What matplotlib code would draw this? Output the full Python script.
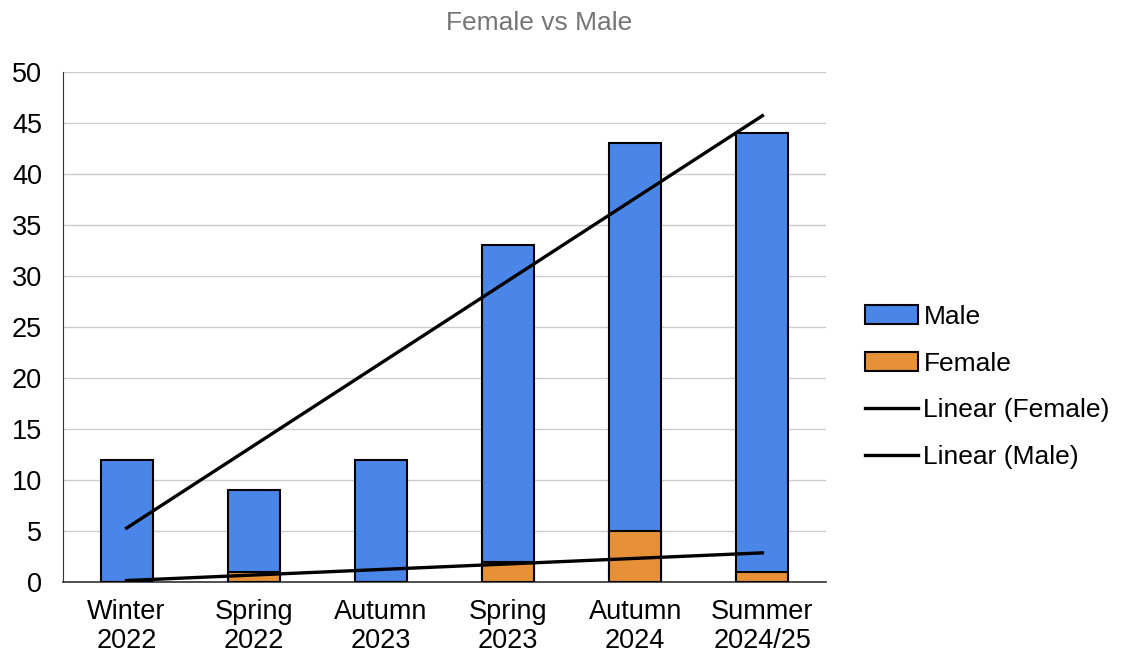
import numpy as np
import matplotlib
matplotlib.use("Agg")
import matplotlib.pyplot as plt

categories = ["Winter\n2022", "Spring\n2022", "Autumn\n2023", "Spring\n2023", "Autumn\n2024", "Summer\n2024/25"]
male = [12, 9, 12, 33, 43, 44]
female = [0, 1, 0, 2, 5, 1]

plt.rcParams["font.family"] = ["Liberation Sans", "DejaVu Sans"]

fig = plt.figure(figsize=(11.21, 6.57), dpi=100)
ax = fig.add_axes([63 / 1121, 1 - 582 / 657, 763 / 1121, 510 / 657])

x = np.arange(len(categories))
w = 0.41
b1 = ax.bar(x, male, w, color="#4a86e8", edgecolor="black", linewidth=1.5, label="Male", zorder=2)
b2 = ax.bar(x, female, w, color="#e69138", edgecolor="black", linewidth=1.5, label="Female", zorder=3)

# linear trend lines
pf = np.polyfit(x, female, 1)
pm = np.polyfit(x, male, 1)
l1, = ax.plot(x, np.polyval(pf, x), color="black", lw=2.4, label="Linear (Female)", zorder=4)
l2, = ax.plot(x, np.polyval(pm, x), color="black", lw=2.4, label="Linear (Male)", zorder=4)

ax.set_xlim(-0.5, len(categories) - 0.5)
ax.set_ylim(0, 50)
ax.set_yticks(range(0, 51, 5))
ax.set_xticks(x)
ax.set_xticklabels(categories, linespacing=1.15)
ax.tick_params(axis="both", length=0, labelsize=19.5, colors="black")
ax.tick_params(axis="y", pad=15)
ax.tick_params(axis="x", pad=12)
ax.grid(axis="y", color="#cccccc", lw=1, zorder=0)
ax.set_axisbelow(True)
for s in ["top", "right"]:
    ax.spines[s].set_visible(False)
ax.spines["left"].set_color("#333333")
ax.spines["bottom"].set_color("#333333")
ax.spines["bottom"].set_linewidth(1.2)

fig.text(539 / 1121, 1 - 23 / 657, "Female vs Male", ha="center", va="center",
         fontsize=19, color="#757575")

fig.legend([b1, b2, l1, l2], ["Male", "Female", "Linear (Female)", "Linear (Male)"],
           loc="center left", bbox_to_anchor=(0.772, 1 - 387 / 657), frameon=False,
           fontsize=19, handlelength=2.0, handletextpad=0.2, labelspacing=0.86,
           borderpad=0, borderaxespad=0)

fig.savefig("out.png", dpi=100)
